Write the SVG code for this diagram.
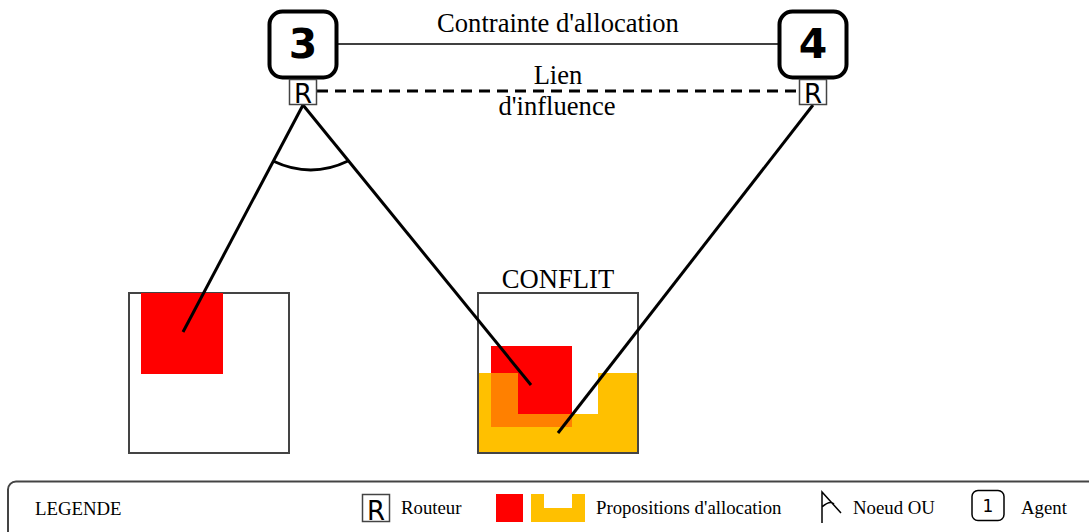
<svg xmlns="http://www.w3.org/2000/svg" width="1089" height="532" viewBox="0 0 1089 532">
<style>
.serif{font-family:"Liberation Serif","Times New Roman",serif;fill:#000}
.lbl{font-size:26.6px;text-anchor:middle}
.leg{font-size:18.8px}
.agent{fill:#fff;stroke:#000;stroke-width:4}
.agentnum{font-family:"DejaVu Sans",sans-serif;font-weight:bold;font-size:41px;text-anchor:middle}
.router{fill:#fff;stroke:#444;stroke-width:1.5}
.rtxt{font-family:"DejaVu Sans",sans-serif;font-size:26px;text-anchor:middle}
.box{fill:#fff;stroke:#444;stroke-width:2}
.link{stroke:#000;stroke-width:3;fill:none}
</style>
<g id="connectors">
<line x1="337" y1="44" x2="779" y2="44" stroke="#000" stroke-width="1.5"/>
<line x1="317" y1="91" x2="799" y2="91" stroke="#000" stroke-width="3" stroke-dasharray="11,7"/>
</g>
<g id="box-left">
<rect class="box" x="129" y="293" width="160" height="160"/>
<rect x="141" y="293" width="82" height="81" fill="#ff0000"/>
</g>
<g id="box-conflit">
<rect class="box" x="478" y="293" width="160" height="160"/>
<path d="M478,373 H518 V414 H598 V373 H637 V453 H478 Z" fill="#ffc000"/>
<rect x="491" y="346" width="81" height="81" fill="#ff0000"/>
<path d="M491,373 H518 V414 H572 V427 H491 Z" fill="#ff8000"/>
<rect x="478" y="293" width="160" height="160" fill="none" stroke="#444" stroke-width="2"/>
<text class="serif lbl" x="558" y="288">CONFLIT</text>
</g>
<g id="links">
<line class="link" x1="303" y1="105" x2="183" y2="332"/>
<line class="link" x1="303" y1="105" x2="531" y2="385"/>
<line class="link" x1="813" y1="105" x2="558" y2="433"/>
<path class="link" d="M273,161 Q311,179 348,161"/>
</g>
<g id="agent3">
<rect class="agent" x="269.5" y="11.5" width="67" height="66" rx="13"/>
<text class="agentnum" x="303" y="58">3</text>
<rect class="router" x="289.5" y="79.5" width="27" height="25"/>
<text class="rtxt" x="303" y="103">R</text>
</g>
<g id="agent4">
<rect class="agent" x="779.5" y="11.5" width="67" height="66" rx="13"/>
<text class="agentnum" x="813" y="58">4</text>
<rect class="router" x="799.5" y="79.5" width="27" height="25"/>
<text class="rtxt" x="813" y="103">R</text>
</g>
<g id="labels">
<text class="serif lbl" x="558" y="32">Contrainte d'allocation</text>
<text class="serif lbl" x="558" y="84">Lien</text>
<text class="serif lbl" x="557" y="115">d'influence</text>
</g>
<g id="legend">
<rect x="8" y="481.5" width="1100" height="70" rx="8" fill="#fff" stroke="#444" stroke-width="2"/>
<text class="serif leg" x="35" y="515">LEGENDE</text>
<rect class="router" x="362.5" y="494.5" width="27" height="27"/>
<text class="rtxt" x="376" y="520">R</text>
<text class="serif leg" x="401" y="514">Routeur</text>
<rect x="496" y="494" width="27" height="28" fill="#ff0000"/>
<path d="M531,494 H544 V508 H572 V494 H585 V522 H531 Z" fill="#ffc000"/>
<text class="serif leg" x="596" y="514">Propositions d'allocation</text>
<path d="M822,523 V492 L841,513 M822,507 Q830,500 834,504" fill="none" stroke="#000" stroke-width="1.5"/>
<text class="serif leg" x="853" y="514">Noeud OU</text>
<rect x="972" y="490.5" width="32" height="30" rx="6" fill="#fff" stroke="#000" stroke-width="1.5"/>
<text x="988" y="512" font-family="DejaVu Sans,sans-serif" font-size="17" text-anchor="middle">1</text>
<text class="serif leg" x="1021" y="514">Agent</text>
</g>
</svg>
